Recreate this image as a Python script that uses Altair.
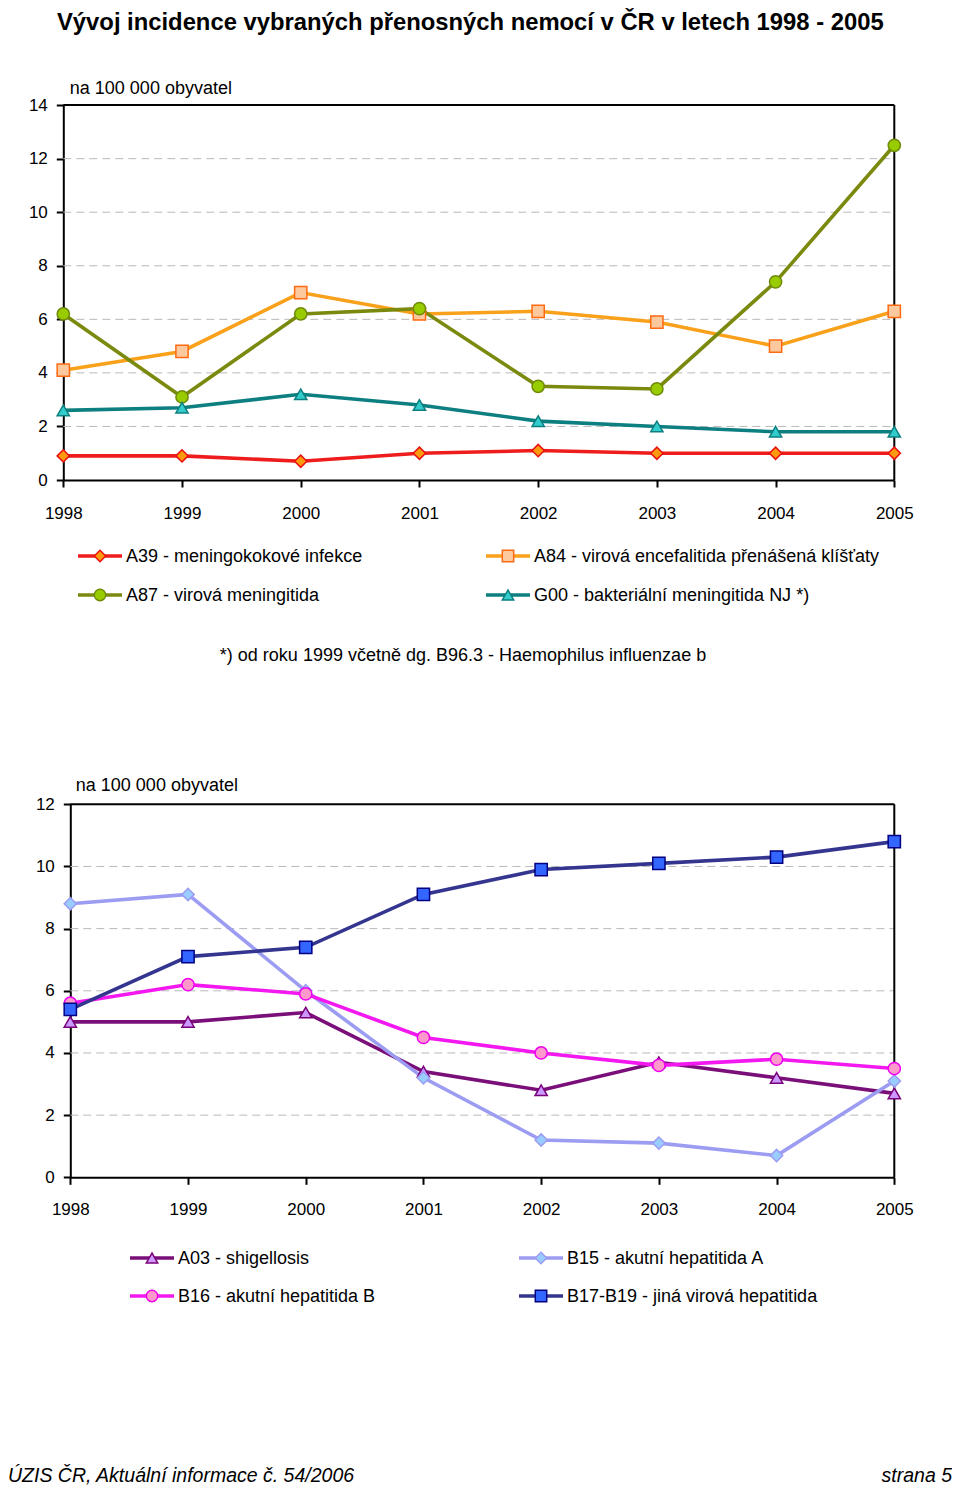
import altair as alt
import pandas as pd

# ---------------- data ----------------
years = [1998, 1999, 2000, 2001, 2002, 2003, 2004, 2005]

top_series = [
    "A39 - meningokokové infekce",
    "A84 - virová encefalitida přenášená klíšťaty",
    "A87 - virová meningitida",
    "G00 - bakteriální meningitida NJ  *)",
]
a39 = [0.9, 0.9, 0.7, 1.0, 1.1, 1.0, 1.0, 1.0]
a84 = [4.1, 4.8, 7.0, 6.2, 6.3, 5.9, 5.0, 6.3]
a87 = [6.2, 3.1, 6.2, 6.4, 3.5, 3.4, 7.4, 12.5]
g00 = [2.6, 2.7, 3.2, 2.8, 2.2, 2.0, 1.8, 1.8]

bottom_series = [
    "A03 - shigellosis",
    "B15 - akutní hepatitida A",
    "B16 - akutní hepatitida B",
    "B17-B19 - jiná virová hepatitida",
]
a03 = [5.0, 5.0, 5.3, 3.4, 2.8, 3.7, 3.2, 2.7]
b15 = [8.8, 9.1, 6.0, 3.2, 1.2, 1.1, 0.7, 3.1]
b16 = [5.6, 6.2, 5.9, 4.5, 4.0, 3.6, 3.8, 3.5]
b17 = [5.4, 7.1, 7.4, 9.1, 9.9, 10.1, 10.3, 10.8]

top_ticks = [0, 2, 4, 6, 8, 10, 12, 14]
bottom_ticks = [0, 2, 4, 6, 8, 10, 12]

title_text = "Vývoj incidence vybraných přenosných nemocí v ČR v letech 1998 - 2005"
unit_text = "na 100 000 obyvatel"
note_text = "*) od roku 1999 včetně dg. B96.3 - Haemophilus influenzae b"
footer_left = "ÚZIS ČR, Aktuální informace č. 54/2006"
footer_right = "strana 5"

# ---------------- styles ----------------
all_series = top_series + bottom_series
line_colors = ["#ee1c1c", "#f9a11b", "#7b8a0e", "#0e7f80",
               "#7a0f7a", "#9c9cf2", "#f418f0", "#33358f"]
marker_fills = ["#ff9a10", "#fcc89e", "#99cc00", "#33cccc",
                "#cc99ff", "#99ccff", "#ff99cc", "#3366ff"]
marker_strokes = ["#e81010", "#ff6a10", "#6f8a08", "#0e7f80",
                  "#7a007a", "#9c9cf2", "#f000f0", "#000080"]
marker_shapes = ["diamond", "square", "circle", "triangle-up",
                 "triangle-up", "diamond", "circle", "square"]

FONT = "Liberation Sans, Arial, sans-serif"
W, H = 944, 1481

color_enc = alt.Color("series:N", scale=alt.Scale(domain=all_series, range=line_colors), legend=None)
fill_enc = alt.Fill("series:N", scale=alt.Scale(domain=all_series, range=marker_fills), legend=None)
stroke_enc = alt.Stroke("series:N", scale=alt.Scale(domain=all_series, range=marker_strokes), legend=None)
shape_enc = alt.Shape("series:N", scale=alt.Scale(domain=all_series, range=marker_shapes), legend=None)


def long_table(names, values):
    rows = []
    for name, vals in zip(names, values):
        for yr, v in zip(years, vals):
            rows.append({"year": yr, "value": v, "series": name})
    return pd.DataFrame(rows)


def panel(names, values, ticks, xrange, yrange, unit_dx, unit_y, lab_pad):
    df = long_table(names, values)
    ymax = ticks[-1]
    xscale = alt.Scale(domain=[years[0], years[-1]], range=xrange, nice=False, zero=False)
    yscale = alt.Scale(domain=[0, ymax], range=yrange, nice=False, zero=False)
    xaxis = alt.Axis(orient="bottom", offset=yrange[0] - H, values=years, format="d",
                     tickSize=7, tickWidth=2, tickColor="black", domainWidth=2, domainColor="black",
                     labelFont=FONT, labelFontSize=17, labelColor="black", labelPadding=lab_pad,
                     labelFlush=False, labelOverlap=False, grid=False, title=None)
    yaxis = alt.Axis(orient="left", offset=-xrange[0], values=ticks,
                     tickSize=7, tickWidth=2, tickColor="black", domainWidth=2, domainColor="black",
                     labelFont=FONT, labelFontSize=17, labelColor="black", labelPadding=9,
                     grid=False, title=unit_text, titleAngle=0, titleAlign="left",
                     titleBaseline="alphabetic", titleX=unit_dx, titleY=unit_y,
                     titleFont=FONT, titleFontSize=18, titleFontWeight="normal", titleColor="black")
    X = alt.X("year:Q", scale=xscale, axis=xaxis)
    Y = alt.Y("value:Q", scale=yscale, axis=yaxis)

    grid_df = pd.DataFrame({"value": ticks[1:-1], "year": years[0], "year2": years[-1]})
    grid = alt.Chart(grid_df).mark_rule(color="#b9b9b9", strokeWidth=1, strokeDash=[8, 5]).encode(
        x=X, x2="year2:Q", y=Y)
    top_df = pd.DataFrame({"value": [ymax], "year": [years[0]], "year2": [years[-1]]})
    frame_top = alt.Chart(top_df).mark_rule(color="black", strokeWidth=2).encode(x=X, x2="year2:Q", y=Y)
    right_df = pd.DataFrame({"year": [years[-1]], "value": [0], "value2": [ymax]})
    frame_right = alt.Chart(right_df).mark_rule(color="black", strokeWidth=2).encode(x=X, y=Y, y2="value2:Q")
    lines = alt.Chart(df).mark_line(strokeWidth=3.6).encode(x=X, y=Y, color=color_enc, detail="series:N")
    points = alt.Chart(df).mark_point(filled=True, size=150, strokeWidth=1.5, opacity=1).encode(
        x=X, y=Y, fill=fill_enc, stroke=stroke_enc, shape=shape_enc)
    return alt.layer(grid, frame_top, frame_right, lines, points)


def legend(names, xrange, yrange):
    df = pd.DataFrame({
        "series": names,
        "col": [i % 2 for i in range(len(names))],
        "row": [i // 2 for i in range(len(names))],
    })
    X = alt.X("col:Q", scale=alt.Scale(domain=[0, 1], range=xrange), axis=None)
    Y = alt.Y("row:Q", scale=alt.Scale(domain=[0, 1], range=yrange), axis=None)
    seg = alt.Chart(df).mark_rule(strokeWidth=3.6, xOffset=-22, x2Offset=22).encode(
        x=X, x2="col:Q", y=Y, color=color_enc)
    pts = alt.Chart(df).mark_point(filled=True, size=130, strokeWidth=1.5, opacity=1).encode(
        x=X, y=Y, fill=fill_enc, stroke=stroke_enc, shape=shape_enc)
    txt = alt.Chart(df).mark_text(align="left", baseline="middle", dx=26, dy=1, font=FONT,
                                  fontSize=18, color="black").encode(x=X, y=Y, text="series:N")
    return alt.layer(seg, pts, txt)


def label(text, x, y, **kw):
    return alt.Chart(pd.DataFrame({"t": [text]})).mark_text(font=FONT, color="black", **kw).encode(
        x=alt.value(x), y=alt.value(y), text="t:N")


top = panel(top_series, [a39, a84, a87, g00], top_ticks, [55.3, 886.3], [472.0, 97.1], 6, 85.5, 18)
bottom = panel(bottom_series, [a03, b15, b16, b17], bottom_ticks, [62.3, 886.3], [1169.3, 796.3], 5, 782.5, 17)
leg_top = legend(top_series, [92, 500], [548, 587])
leg_bot = legend(bottom_series, [144, 533], [1250, 1288])

texts = alt.layer(
    label(title_text, 49, 22, align="left", baseline="alphabetic", fontSize=23.8, fontWeight="bold"),
    label(note_text, 455, 648, align="center", baseline="middle", fontSize=18),
    label(footer_left, 0, 1474, align="left", baseline="alphabetic", fontSize=19.5, fontStyle="italic"),
    label(footer_right, W, 1474, align="right", baseline="alphabetic", fontSize=19.5, fontStyle="italic"),
)

chart = alt.layer(top, bottom, leg_top, leg_bot, texts).resolve_scale(
    x="independent", y="independent"
).properties(
    width=W, height=H, autosize=alt.AutoSizeParams(type="none"), padding=0
).configure_view(stroke=None)

chart.save("out.html", embed_options={"renderer": "svg", "actions": False})
